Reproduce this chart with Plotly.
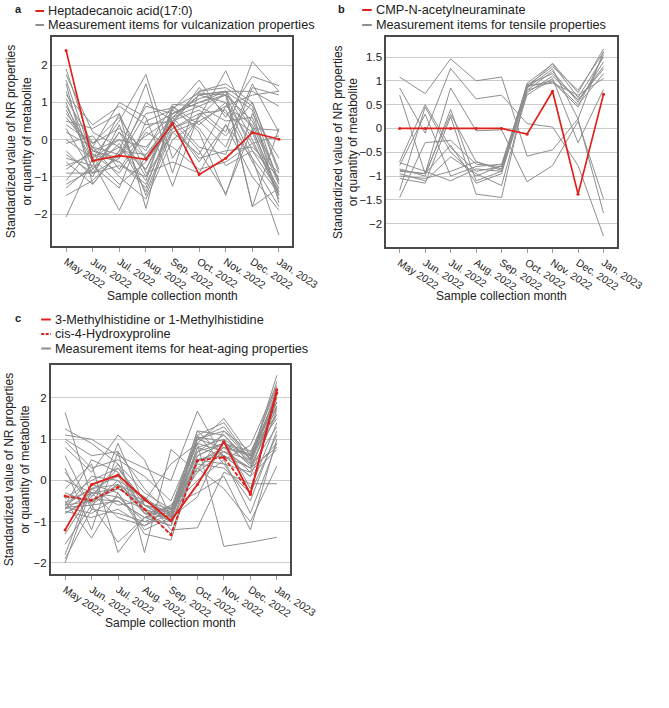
import plotly.graph_objects as go

W, H = 669, 708

months = ["May 2022", "Jun. 2022", "Jul. 2022", "Aug. 2022", "Sep. 2022",
          "Oct. 2022", "Nov. 2022", "Dec. 2022", "Jan. 2023"]

# ---- panel a ----
heptadecanoic = [2.4, -0.57, -0.43, -0.53, 0.44, -0.94, -0.5, 0.19, 0.01]
vulcanization = [
    [1.9, -0.3, -0.6, -1.3, 0.6, 1.2, 1.3, 0.3, -1.4],
    [1.75, 0.2, -0.2, -0.8, 0.7, 1.0, 1.2, 0.5, -1.1],
    [1.6, -0.5, 0.5, 1.75, -0.5, 0.6, 1.85, 0.3, -1.5],
    [1.5, -1.2, -0.3, 1.5, -0.9, 1.3, 1.5, 1.0, -0.9],
    [1.2, 0.4, 0.9, 0.4, 0.5, 0.8, 0.2, 2.1, 1.3],
    [1.0, -0.8, 0.2, -1.0, 0.8, 1.6, 0.6, 1.7, 1.45],
    [0.8, -0.6, -1.9, -0.4, 0.3, 0.6, 1.3, -1.8, 0.3],
    [0.6, -0.3, 0.0, -0.2, 0.6, -0.2, -0.4, 1.4, 1.2],
    [0.5, 0.3, 0.7, -1.85, 0.9, 0.2, -1.5, 0.7, -0.5],
    [0.3, -0.9, -0.5, 1.0, 0.5, 1.2, 1.0, -0.5, -2.57],
    [0.2, -0.2, 1.0, 0.6, -1.25, 0.7, 0.1, 1.0, -0.8],
    [0.0, -0.5, -1.2, -0.6, 0.4, -0.6, 0.4, -1.0, -1.9],
    [-0.1, 0.1, -0.8, 0.3, 0.7, 1.0, 1.3, 1.3, 0.9],
    [-0.3, -1.0, 0.4, -1.5, 0.2, -0.4, 0.9, 0.4, -1.2],
    [-0.5, -0.7, -1.3, 0.5, 0.8, 0.3, -0.7, -0.3, -1.0],
    [-0.7, -0.4, -0.6, -1.2, 0.4, 1.4, 0.7, 0.2, -1.6],
    [-0.9, -0.9, 0.2, -0.5, 0.6, 0.9, 1.2, -1.8, -1.3],
    [-1.1, -0.2, -1.0, -1.6, 0.0, 0.5, -0.2, 1.5, 0.2],
    [-1.3, -0.7, 0.7, -0.9, -0.6, -0.9, 0.4, -0.5, -1.45],
    [-1.5, -1.1, -0.4, 0.9, 0.7, 1.1, 1.3, 0.8, -1.7],
    [-2.08, -0.5, 0.0, -0.8, 0.5, -0.3, -1.45, 0.3, 0.25],
    [1.3, -0.6, -0.2, -1.1, 0.9, 0.4, 1.0, -0.1, -1.3],
    [0.9, -0.4, -0.9, 0.2, -0.2, -0.8, -0.6, -0.1, 0.1],
    [-0.6, -1.2, -0.3, -0.4, 0.5, 1.2, 1.3, 0.0, -1.5],
    [0.4, -0.1, 0.3, -0.3, 0.95, 0.9, 0.5, 0.6, -1.1],
    [-1.2, -0.8, -0.1, -1.4, 0.3, 0.7, 0.8, -0.6, -1.8],
    [0.7, -0.2, -0.4, 0.1, 0.6, 1.3, 1.4, 0.9, -1.2],
    [-0.4, -0.9, -0.7, -1.0, 0.2, 0.5, 0.9, 1.2, 1.3],
    [1.1, -0.1, 0.6, -0.5, 0.4, -0.5, -0.3, -0.2, -0.9],
    [-0.8, -0.3, -0.5, 0.7, 0.85, 1.25, 1.2, -0.3, -1.4],
]

# ---- panel b ----
cmp_neu = [0.0, 0.0, 0.0, 0.0, 0.0, -0.12, 0.78, -1.38, 0.72]
tensile = [
    [1.08, 0.73, 1.46, 1.0, 1.08, -0.58, -0.45, 0.2, -1.78],
    [0.85, -0.1, 1.26, 0.62, 0.7, 0.1, 0.03, -0.78, -2.26],
    [0.7, -0.95, 0.85, -0.05, -0.03, -1.12, -0.78, 0.15, -1.48],
    [-0.7, 0.5, -0.4, -0.9, -0.8, 0.85, 1.37, 0.75, 1.67],
    [-0.78, 0.3, -1.0, -0.8, -0.75, 0.9, 1.3, 0.8, 1.6],
    [-0.85, -1.0, 0.4, -1.1, -0.9, 0.95, 1.35, 0.65, 1.5],
    [-0.9, -0.95, 0.3, -0.7, -0.85, 0.8, 1.2, 0.55, 1.4],
    [-0.95, -1.1, -0.6, -0.95, -1.2, 0.75, 1.1, 0.6, 1.3],
    [-1.05, -1.15, 0.25, -1.38, -1.45, 0.88, 1.0, 0.5, 1.15],
    [-1.45, -0.3, -0.25, -0.75, -0.8, 0.9, 0.95, 0.7, 1.05],
    [-0.72, -0.9, -1.1, -0.85, -0.9, 0.7, 1.05, -0.3, 0.82],
    [-1.3, 0.45, -0.5, -1.0, -0.78, 0.8, 0.98, 0.45, 1.55],
    [-0.88, -0.95, -0.35, -1.15, -0.95, 0.85, 1.25, 0.2, 1.62],
    [-1.0, -1.05, -0.9, -0.7, -0.88, 0.92, 1.15, 0.6, 1.25],
]

# ---- panel c ----
methylhistidine = [-1.2, -0.1, 0.13, -0.45, -0.98, -0.1, 0.94, -0.34, 2.2]
hydroxyproline = [-0.38, -0.48, -0.16, -0.7, -1.32, 0.48, 0.56, -0.3, 2.12]
heat_aging = [
    [1.65, -0.4, 0.3, -0.6, -0.8, 1.2, 0.6, 0.3, 1.8],
    [1.25, 0.9, 0.4, -0.3, -0.7, 0.9, 1.5, 0.6, 2.1],
    [1.1, 1.0, 0.6, 0.3, 0.0, 1.68, 0.5, 0.85, 2.3],
    [0.8, 0.2, 1.1, 0.5, -0.9, 1.0, 1.3, 0.5, 2.55],
    [0.6, -0.7, 0.9, -0.6, -0.75, 0.6, 0.9, 0.4, 1.9],
    [0.3, -1.2, 0.7, -1.75, 0.75, 0.2, 1.2, 0.7, 1.6],
    [0.0, -0.3, -0.4, -1.0, -1.0, 1.1, 0.4, -0.5, 1.2],
    [-0.2, 0.4, -1.75, -0.9, -0.6, 0.3, 0.8, 0.2, 2.0],
    [-0.4, -0.5, -0.1, -0.8, -1.1, 0.8, 0.6, 0.1, 1.7],
    [-0.5, -1.4, -0.3, -1.2, -0.9, -0.4, 1.0, -0.2, 1.4],
    [-0.55, -0.2, -0.6, -0.5, 0.4, 0.9, -1.6, -1.5, -1.38],
    [-0.6, 0.5, 0.2, -0.7, -1.3, 0.5, 0.7, 0.3, 0.8],
    [-0.65, -0.6, -1.5, -0.9, -0.7, 1.2, 1.1, 0.4, 2.2],
    [-0.7, 0.1, 0.0, -0.4, -1.2, -1.15, 0.2, -0.08, -0.08],
    [-0.75, -0.9, -0.7, -1.1, -0.8, 0.7, 0.9, 0.6, 1.5],
    [-0.8, -0.4, 0.4, -0.8, -0.65, 0.0, 0.5, -0.8, 0.9],
    [-1.3, -0.3, -0.2, -0.6, -1.0, 1.0, 1.2, 0.5, 2.0],
    [-1.55, -0.6, -0.5, -0.9, -0.85, 0.4, 0.3, -0.3, 1.1],
    [-1.8, -0.1, -0.3, -1.3, -1.45, 0.6, 0.9, 0.7, 1.8],
    [-2.0, -0.2, 0.1, -0.7, -0.9, 0.8, 1.0, 0.55, 2.1],
    [-1.9, -0.7, -0.8, -1.0, -0.75, 0.2, 0.7, 0.3, 1.3],
    [0.95, 0.3, 0.5, 0.1, -0.5, 1.0, 0.8, 0.6, 1.9],
    [-0.6, -0.5, -0.2, -0.5, -0.8, 0.5, 0.6, 0.1, 0.75],
    [-0.65, -0.8, -0.4, -0.7, -1.0, 0.3, -0.2, -1.0, 0.35],
    [-0.7, -0.3, -0.9, -1.1, -0.6, -0.3, 0.1, -1.2, 1.0],
    [0.2, -0.6, -0.1, -0.4, -0.9, 1.1, 1.4, 0.5, 2.4],
    [-0.45, 0.0, 0.3, -0.5, -0.7, 0.9, 0.7, 0.5, 1.75],
    [-0.6, -0.2, -0.1, -0.6, -0.95, 0.7, 1.1, 0.45, 2.05],
    [-0.3, -0.55, 0.0, -0.8, -0.8, 1.05, 0.95, 0.35, 1.6],
    [-0.8, -0.45, -0.5, -0.9, -1.1, 0.5, 0.4, 0.2, 0.9],
    [1.0, 0.6, 0.7, -0.2, -0.85, 0.45, 0.8, 0.65, 2.25],
]

legend_a = ["Heptadecanoic acid(17:0)", "Measurement items for vulcanization properties"]
legend_b = ["CMP-N-acetylneuraminate", "Measurement items for tensile properties"]
legend_c = ["3-Methylhistidine or 1-Methylhistidine", "cis-4-Hydroxyproline",
            "Measurement items for heat-aging properties"]
panel_letters = ["a", "b", "c"]
y_title = "Standardized value of NR properties<br>or quantity of metabolite"
x_title = "Sample collection month"

FONT = "Arial, Liberation Sans, sans-serif"
GRAY = "#8e8e8e"
RED = "#e0201b"

def px_x(p):
    return p / W

def px_y(p):
    return 1 - p / H

fig = go.Figure()

def add_gray(rows, xa, ya):
    for r in rows:
        fig.add_trace(go.Scatter(x=months, y=r, mode="lines", xaxis=xa, yaxis=ya,
                                 line=dict(color=GRAY, width=1), showlegend=False,
                                 hoverinfo="skip"))

add_gray(vulcanization, "x", "y")
fig.add_trace(go.Scatter(x=months, y=heptadecanoic, mode="lines+markers", xaxis="x", yaxis="y",
                         line=dict(color=RED, width=1.7), marker=dict(size=3, color=RED),
                         showlegend=False))
add_gray(tensile, "x2", "y2")
fig.add_trace(go.Scatter(x=months, y=cmp_neu, mode="lines+markers", xaxis="x2", yaxis="y2",
                         line=dict(color=RED, width=1.7), marker=dict(size=3, color=RED),
                         showlegend=False))
add_gray(heat_aging, "x3", "y3")
fig.add_trace(go.Scatter(x=months, y=hydroxyproline, mode="lines+markers", xaxis="x3", yaxis="y3",
                         line=dict(color=RED, width=1.8, dash="4px,2px"), marker=dict(size=3, color=RED),
                         showlegend=False))
fig.add_trace(go.Scatter(x=months, y=methylhistidine, mode="lines+markers", xaxis="x3", yaxis="y3",
                         line=dict(color=RED, width=1.9), marker=dict(size=3, color=RED),
                         showlegend=False))

def xaxis_style(dom, anchor, rng):
    return dict(domain=dom, anchor=anchor, type="category", range=rng,
                showgrid=False, zeroline=False, showline=True, mirror=True,
                linecolor="#4a4a4a", linewidth=1.5, ticks="outside", ticklen=4,
                tickcolor="#9a9a9a", tickangle=33,
                tickfont=dict(family=FONT, size=10.5, color="#222"))

def yaxis_style(dom, anchor, rng, dtick):
    return dict(domain=dom, anchor=anchor, range=rng, dtick=dtick, tick0=0,
                showgrid=True, gridcolor="#cccccc", gridwidth=1, zeroline=False,
                showline=True, mirror=True, linecolor="#4a4a4a", linewidth=1.5,
                ticks="", tickfont=dict(family=FONT, size=11.5, color="#222"))

fig.update_layout(
    width=W, height=H, margin=dict(l=0, r=0, t=0, b=0),
    paper_bgcolor="white", plot_bgcolor="white", showlegend=False,
    font=dict(family=FONT, color="#222"),
    xaxis=xaxis_style([px_x(54), px_x(305)], "y", [-0.54, 8.5]),
    yaxis=yaxis_style([px_y(246), px_y(37)], "x", [-2.86, 2.76], 1),
    xaxis2=xaxis_style([px_x(403), px_x(644)], "y2", [-0.53, 8.53]),
    yaxis2=yaxis_style([px_y(247), px_y(37)], "x2", [-2.49, 1.92], 0.5),
    xaxis3=xaxis_style([px_x(53), px_x(303)], "y3", [-0.54, 8.51]),
    yaxis3=yaxis_style([px_y(574), px_y(365)], "x3", [-2.27, 2.8], 1),
)

annotations = []
shapes = []

def text(x, y, s, size=12, xanchor="left", angle=0, bold=False):
    annotations.append(dict(x=px_x(x), y=px_y(y), xref="paper", yref="paper", text=(f"<b>{s}</b>" if bold else s),
                            showarrow=False, xanchor=xanchor, yanchor="middle", textangle=angle,
                            borderpad=0, font=dict(family=FONT, size=size, color="#222")))

def sym(x0, x1, y, color, dash="solid"):
    shapes.append(dict(type="line", xref="paper", yref="paper", x0=px_x(x0), x1=px_x(x1),
                       y0=px_y(y), y1=px_y(y), line=dict(color=color, width=2, dash=dash)))

# panel letters
text(19, 9, panel_letters[0], size=11, xanchor="center", bold=True)
text(356, 9, panel_letters[1], size=11, xanchor="center", bold=True)
text(19, 318, panel_letters[2], size=11, xanchor="center", bold=True)

# legends
LG = 12.7
sym(37, 46, 11, RED); text(49, 11, legend_a[0], size=LG)
sym(37, 46, 25, GRAY); text(49, 25, legend_a[1], size=LG)
sym(378, 388, 10, RED); text(391, 10, legend_b[0], size=LG)
sym(378, 388, 25, GRAY); text(391, 25, legend_b[1], size=LG)
sym(43, 53, 319.5, RED); text(56, 319.5, legend_c[0], size=LG)
sym(43, 53, 334, RED, dash="3px,1.5px"); text(56, 334, legend_c[1], size=LG)
sym(43, 53, 348.5, GRAY); text(56, 348.5, legend_c[2], size=LG)

# axis titles
text(20, 142, y_title, xanchor="center", angle=-90)
text(361, 142, y_title, xanchor="center", angle=-90)
text(18, 470, y_title, xanchor="center", angle=-90)
text(180, 296, x_title, xanchor="center")
text(523, 296, x_title, xanchor="center")
text(178, 623, x_title, xanchor="center")

fig.update_layout(annotations=annotations, shapes=shapes)
fig.write_html("out.html")
